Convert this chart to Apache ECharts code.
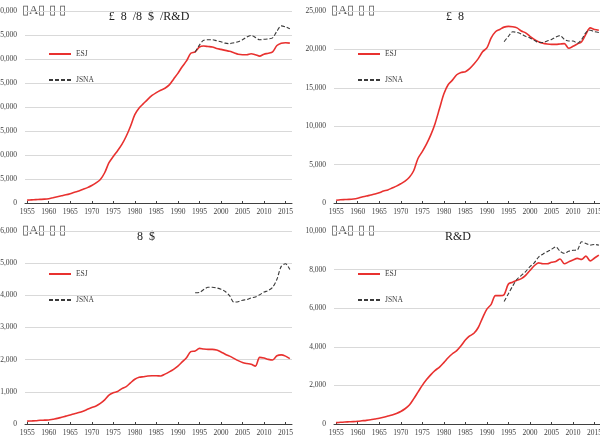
<!DOCTYPE html>
<html><head><meta charset="utf-8">
<script src="https://cdn.jsdelivr.net/npm/echarts@6/dist/echarts.min.js"></script>
<style>html,body{margin:0;padding:0;background:#fff}#c{width:600px;height:440px}</style>
</head><body><div id="c"></div>
<script>
var years = [1955,1956,1957,1958,1959,1960,1961,1962,1963,1964,1965,1966,1967,1968,1969,1970,1971,1972,1973,1974,1975,1976,1977,1978,1979,1980,1981,1982,1983,1984,1985,1986,1987,1988,1989,1990,1991,1992,1993,1994,1995,1996,1997,1998,1999,2000,2001,2002,2003,2004,2005,2006,2007,2008,2009,2010,2011,2012,2013,2014,2015,2016];
var jsnaStartYear = 1994;
var titles = ['£  8  /8  $  /R&D', '£  8', '8  $', 'R&D'];
var unitLabel = '▯A▯ ▯ ▯';
// panel 1: total
var esjTotal = [600,650,700,750,800,900,1100,1300,1500,1700,1950,2250,2500,2850,3200,3650,4200,4900,6300,8400,9700,10900,12200,13900,16000,18400,19800,20700,21600,22400,23000,23500,23900,24600,25800,27000,28400,29600,31200,31500,32500,32700,32600,32500,32200,32000,31800,31600,31300,31000,30900,30900,31100,30900,30600,31000,31200,31500,32800,33300,33400,33300];
var jsnaTotal = [31400,32900,33900,34000,34000,33800,33600,33300,33200,33400,33600,34000,34600,34900,34500,34000,34100,34200,34400,35800,36900,36700,36300];
// panel 2
var esjA = [350,420,450,470,520,620,780,900,1040,1180,1340,1550,1700,1950,2200,2500,2850,3350,4200,5800,6700,7700,8900,10400,12300,14200,15400,16000,16700,17000,17100,17500,18100,18800,19700,20200,21500,22300,22600,22900,23000,22950,22800,22400,22150,21700,21300,21000,20800,20700,20650,20650,20700,20750,20150,20400,20700,21000,22000,22800,22600,22500];
var jsnaA = [21000,21700,22300,22200,22000,21700,21500,21200,20900,20900,21100,21300,21600,21800,21300,21100,21100,20800,21300,22200,22500,22300,22200];
// panel 3
var esjB = [90,95,100,115,120,125,150,175,210,245,280,320,355,400,455,510,560,640,750,900,970,1010,1100,1160,1280,1390,1450,1470,1490,1500,1500,1490,1550,1620,1700,1800,1930,2060,2250,2270,2350,2330,2320,2320,2300,2240,2170,2110,2040,1970,1910,1880,1860,1800,2070,2050,2010,1990,2120,2150,2110,2030];
var jsnaB = [4080,4090,4180,4250,4250,4230,4190,4120,3990,3790,3800,3850,3870,3920,3950,4020,4100,4150,4250,4500,4900,4980,4800];
// panel 4: R&D
var esjRD = [70,90,105,115,125,140,165,190,220,260,300,350,410,470,550,650,790,980,1300,1650,2000,2300,2560,2780,2950,3180,3430,3640,3800,4050,4350,4560,4700,5000,5500,5950,6200,6650,6650,6700,7250,7350,7450,7530,7700,7950,8200,8350,8300,8300,8380,8420,8550,8300,8400,8500,8580,8530,8700,8450,8600,8750];
var jsnaRD = [6350,6750,7150,7500,7700,7900,8150,8350,8650,8800,8930,9050,9180,8950,8840,8950,9000,9020,9440,9350,9270,9300,9270];
var yMax = [40000, 25000, 6000, 10000];
var yStep = [5000, 5000, 1000, 2000];

var FONT = '"Liberation Serif", "Times New Roman", serif';
var RED = '#e8312f', DARK = '#3a3a3a';
function pad(arr){ var off = years.indexOf(jsnaStartYear); var out = []; for (var i=0;i<years.length;i++){ out.push(i<off?null:arr[i-off]); } return out; }
var esjSets = [esjTotal, esjA, esjB, esjRD];
var jsnaSets = [jsnaTotal, jsnaA, jsnaB, jsnaRD];
var pos = [
  {left:25, top:11, w:267, h:192},
  {left:334, top:11, w:267, h:192},
  {left:25, top:231, w:267, h:193},
  {left:334, top:231, w:267, h:193}
];
var titleX = [149, 455, 146, 458];
var grids=[], xAxes=[], yAxes=[], series=[], legends=[], graphics=[];
for (var p=0;p<4;p++){
  var g = pos[p];
  grids.push({left:g.left, top:g.top, width:g.w, height:g.h, outerBoundsMode:'none', containLabel:false});
  xAxes.push({type:'category', gridIndex:p, data:years, boundaryGap:true,
    axisLine:{lineStyle:{color:'#404040', width:1}},
    axisTick:{show:true, interval:4, alignWithLabel:true, inside:true, length:2, lineStyle:{color:'#404040'}},
    axisLabel:{interval:4, fontFamily:FONT, fontSize:7.5, color:'#404040', margin:5}});
  yAxes.push({type:'value', gridIndex:p, min:0, max:yMax[p], interval:yStep[p],
    axisLine:{show:false}, axisTick:{show:false},
    splitLine:{lineStyle:{color:'#d9d9d9', width:1}},
    axisLabel:{fontFamily:FONT, fontSize:7.5, color:'#404040', margin:8,
      formatter:function(v){ return v.toString().replace(/\B(?=(\d{3})+(?!\d))/g, ','); }}});
  series.push({name:'ESJ', type:'line', xAxisIndex:p, yAxisIndex:p, data:esjSets[p], symbol:'none', smooth:0.3,
    lineStyle:{color:RED, width:1.6}, itemStyle:{color:RED}});
  series.push({name:'JSNA', type:'line', xAxisIndex:p, yAxisIndex:p, data:pad(jsnaSets[p]), symbol:'none', smooth:0.3,
    lineStyle:{color:DARK, width:1.1, type:[4,2]}, itemStyle:{color:DARK}});
  legends.push({data:['ESJ','JSNA'], orient:'vertical', left:g.left+18, top:g.top+34, itemWidth:22, itemHeight:8, itemGap:18,
    selectedMode:false, itemStyle:{color:'rgba(0,0,0,0)', borderColor:'rgba(0,0,0,0)', borderWidth:0},
    textStyle:{fontFamily:FONT, fontSize:7.5, color:'#404040'}});
  graphics.push({type:'text', x:titleX[p], y:g.top+6, style:{text:titles[p], fontFamily:FONT, fontSize:12, fill:'#222', align:'center', verticalAlign:'middle'}});
  graphics.push({type:'text', x:g.left-3, y:g.top, style:{text:unitLabel, fontFamily:FONT, fontSize:13, fill:'#555', align:'left', verticalAlign:'middle'}});
}
var chart = echarts.init(document.getElementById('c'), null, {renderer:'canvas'});
chart.setOption({animation:false, backgroundColor:'#fff', grid:grids, xAxis:xAxes, yAxis:yAxes, series:series, legend:legends, graphic:graphics});
</script></body></html>
